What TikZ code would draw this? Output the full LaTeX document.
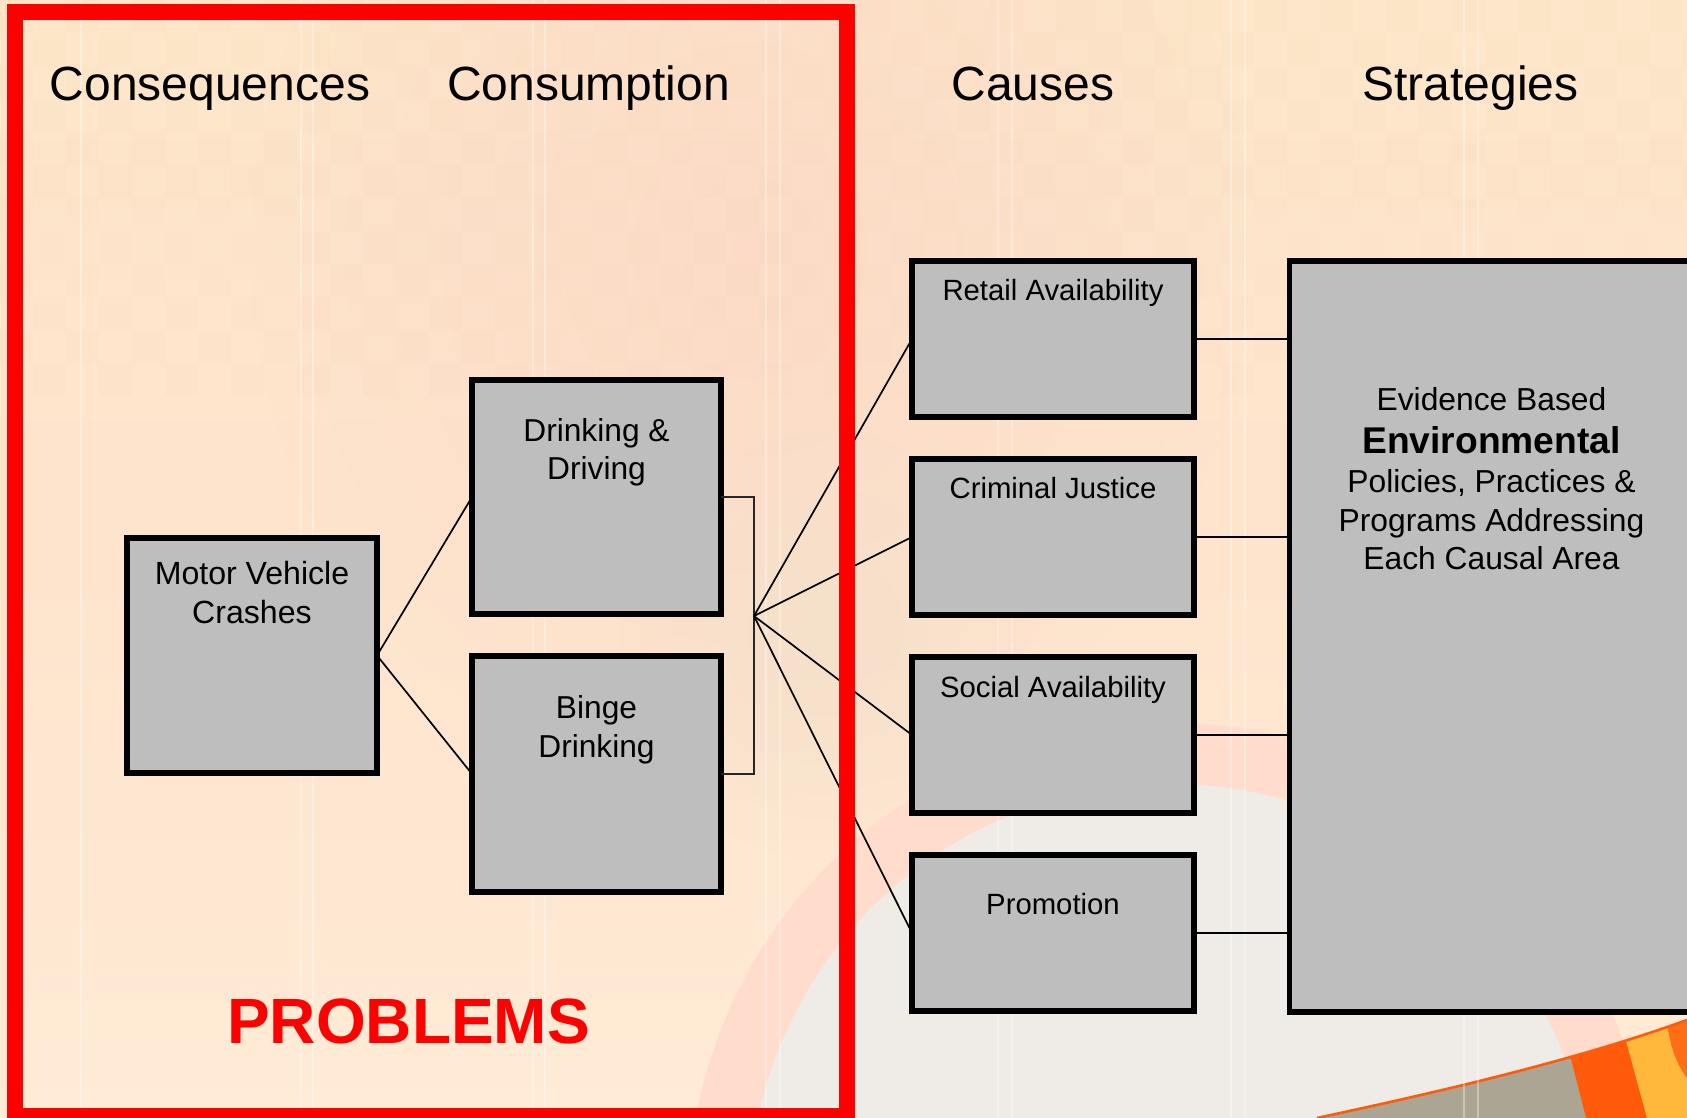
\documentclass[tikz,border=0pt]{standalone}
\usepackage{fontspec}
\setmainfont{Liberation Sans}
\usetikzlibrary{fadings}
\definecolor{boxgray}{HTML}{BEBEBE}
\definecolor{paleg}{HTML}{EFECE8}
\definecolor{salmon}{HTML}{FFDCCC}
\definecolor{brownish}{HTML}{ADA594}
\definecolor{orangeA}{HTML}{FF5B0A}
\definecolor{orangeB}{HTML}{FF6E14}
\definecolor{yellowA}{HTML}{FFB83C}
\definecolor{bgtop}{HTML}{FDE6C9}
\definecolor{bgmid}{HTML}{FEE4CD}
\definecolor{bgbot}{HTML}{FFEBD6}
\definecolor{pinkblob}{HTML}{FCD8C6}
\definecolor{beige}{HTML}{F3E0CA}
\definecolor{checkdark}{HTML}{F6D3B8}
\tikzfading[name=softblob, inner color=transparent!20, outer color=transparent!100]
\newcommand{\boxtext}[4]{\parbox[c][#2pt][t]{#1pt}{\centering\vspace*{#3pt}#4\par}}
\tikzset{
  procbox/.style={draw=black, fill=boxgray, line width=5.2pt, inner sep=0pt, outer sep=0pt, text=black, font=\fontsize{31.7}{38.5}\selectfont},
  causebox/.style={procbox, font=\fontsize{29.3}{35}\selectfont},
  header/.style={anchor=base, text=black, font=\fontsize{48}{56}\selectfont},
  thinline/.style={draw=black, line width=1.7pt},
  bracketline/.style={draw=black!85, line width=1.3pt},
  frameline/.style={draw=red, line width=16pt, line join=miter},
  stripe/.style={draw=white, opacity=0.33, line width=2pt}
}
\begin{document}
\begin{tikzpicture}[x=1pt,y=-1pt]
\useasboundingbox (0,0) rectangle (1687,1118);
\clip (0,0) rectangle (1687,1118);
% background
\shade[top color=bgtop, bottom color=bgbot, middle color=bgmid] (0,0) rectangle (1687,1118);
\fill[pinkblob, path fading=softblob, fit fading=true] (250,-300) rectangle (1250,800);
\fill[beige, path fading=softblob, fit fading=true] (620,400) rectangle (1030,860);
% faint woven texture of the upper part
\foreach \row in {0,...,11}
  \foreach \col in {0,...,51}{
    \pgfmathtruncatemacro{\odd}{mod(\row+\col,2)}
    \ifnum\odd=0
      \fill[checkdark, opacity=0.08] (\col*33,\row*33) rectangle ++(33,33);
    \fi
  }
\fill[salmon] (1170,1205) circle [radius=482];
\fill[paleg] (1170,1205) circle [radius=421];
% bottom-right dome
\begin{scope}
\clip (1317,1118) .. controls (1400,1100) and (1560,1066) .. (1687,1020) -- (1687,1118) -- cycle;
\fill[brownish] (1300,1000) rectangle (1687,1118);
\fill[orangeA] (1556,1000) -- (1615,1000) -- (1647,1118) -- (1586,1118) -- cycle;
\fill[yellowA] (1615,1000) -- (1665,1000) .. controls (1667,1040) and (1675,1062) .. (1687,1078) -- (1687,1118) -- (1647,1118) -- cycle;
\fill[orangeB] (1665,1000) -- (1687,1000) -- (1687,1078) .. controls (1675,1062) and (1667,1040) .. (1665,1000) -- cycle;
\end{scope}
\draw[orangeA, line width=2.6pt] (1317,1118) .. controls (1400,1100) and (1560,1066) .. (1687,1020);
% vertical stripes
\foreach \sx in {81,301,313,533,545,766,780,998,1012,1231,1245,1464,1478}
  \draw[stripe] (\sx,0) -- (\sx,1118);
% headers
\node[header] (hcons) at (210,101) {Consequences};
\node[header] (hconsum) at (588.5,101) {Consumption};
\node[header] (hcause) at (1033,101) {Causes};
\node[header] (hstrat) at (1470.5,101) {Strategies};
% boxes
\node[procbox, font=\fontsize{32.1}{39.2}\selectfont] (motor) at (252,655.5) {\boxtext{250}{235}{23}{Motor Vehicle\\Crashes}};
\node[procbox] (drink) at (596.5,497) {\boxtext{249}{234}{38.5}{Drinking \&\\Driving}};
\node[procbox] (binge) at (596.5,774) {\boxtext{249}{236}{40}{Binge\\Drinking}};
\node[causebox] (retail) at (1053,339) {\boxtext{282}{156}{18}{Retail Availability}};
\node[causebox] (crim) at (1053,537) {\boxtext{282}{156}{18}{Criminal Justice}};
\node[causebox] (social) at (1053,735) {\boxtext{282}{156}{19}{Social Availability}};
\node[causebox] (promo) at (1053,933) {\boxtext{282}{156}{38.5}{Promotion}};
\node[procbox, font=\fontsize{31.8}{38.5}\selectfont] (evid) at (1491.5,636.5) {\boxtext{404}{751}{126}{Evidence Based\\[4.5pt]{\fontsize{37.2}{40}\bfseries\selectfont Environmental}\\[1pt]Policies, Practices \&\\Programs Addressing\\[-0.5pt]Each Causal Area}};
\coordinate (hub) at (754,616);
% connectors
\draw[thinline] (motor.east) -- (drink.west);
\draw[thinline] (motor.east) -- (binge.west);
\draw[bracketline] (drink.east) -| (hub) |- (binge.east);
\draw[thinline] (hub) -- (retail.west);
\draw[thinline] (hub) -- (crim.west);
\draw[thinline] (hub) -- (social.west);
\draw[thinline] (hub) -- (promo.west);
\foreach \c in {retail,crim,social,promo}
  \draw[thinline] (\c.east) -- (evid.west |- \c.east);
% frame
\draw[frameline] (15,12) rectangle (847,1116);
\node[anchor=base, text=red, font=\fontsize{64}{70}\bfseries\selectfont] (problems) at (408.5,1043) {PROBLEMS};
\end{tikzpicture}
\end{document}
